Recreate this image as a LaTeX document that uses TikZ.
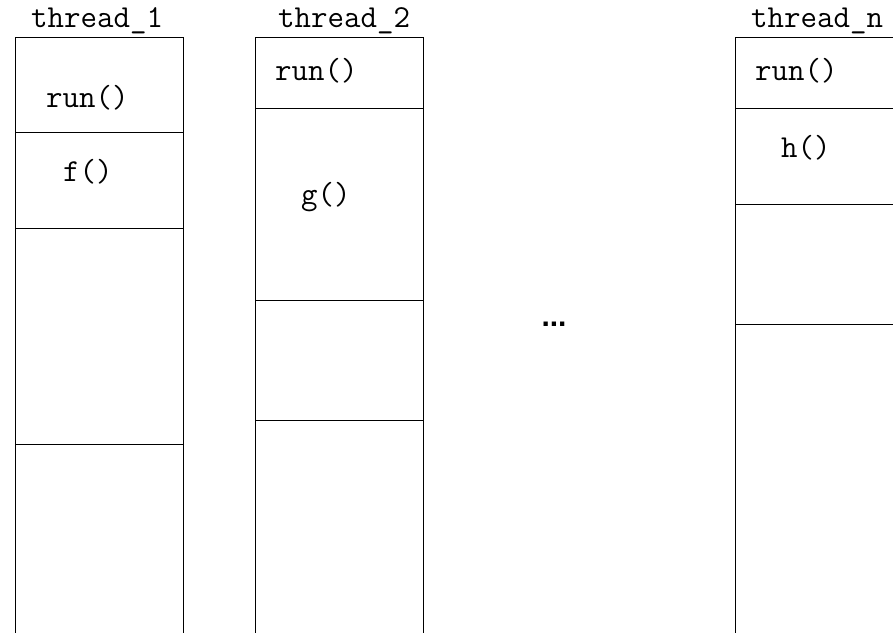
\documentclass[tikz,border=0pt]{standalone}
\usepackage{fontspec}
\setmainfont{Liberation Sans}
\begin{document}
\begin{tikzpicture}[x=1pt,y=-1pt,
  lbl/.style={font=\ttfamily\fontsize{32}{34}\selectfont, anchor=base west, inner sep=0pt},
  stackbox/.style={draw=black, line width=1pt}]
\useasboundingbox (0,0) rectangle (893,632);
\clip (0,0) rectangle (893,632);
% thread 1
\draw[stackbox] (15,37) rectangle (183,700);
\draw[stackbox] (15,132) -- (183,132);
\draw[stackbox] (15,228) -- (183,228);
\draw[stackbox] (15,444) -- (183,444);
% thread 2
\draw[stackbox] (255,37) rectangle (423,700);
\draw[stackbox] (255,108) -- (423,108);
\draw[stackbox] (255,300) -- (423,300);
\draw[stackbox] (255,420) -- (423,420);
% thread n
\draw[stackbox] (735,37) rectangle (950,700);
\draw[stackbox] (735,108) -- (950,108);
\draw[stackbox] (735,204) -- (950,204);
\draw[stackbox] (735,324) -- (950,324);
% labels
\node[lbl] (t1) at (31,27) {thread\_1};
\node[lbl] (r1) at (46,107) {run()};
\node[lbl] (f1) at (63,181) {f()};
\node[lbl] (t2) at (278,27) {thread\_2};
\node[lbl] (r2) at (275,80) {run()};
\node[lbl] (g2) at (301,204) {g()};
\node[lbl] (tn) at (751,27) {thread\_n};
\node[lbl] (rn) at (755,80) {run()};
\node[lbl] (hn) at (781,157) {h()};
\node[font=\bfseries\fontsize{30}{32}\selectfont, anchor=base, inner sep=0pt] (dots) at (554,326) {...};
\end{tikzpicture}
\end{document}
